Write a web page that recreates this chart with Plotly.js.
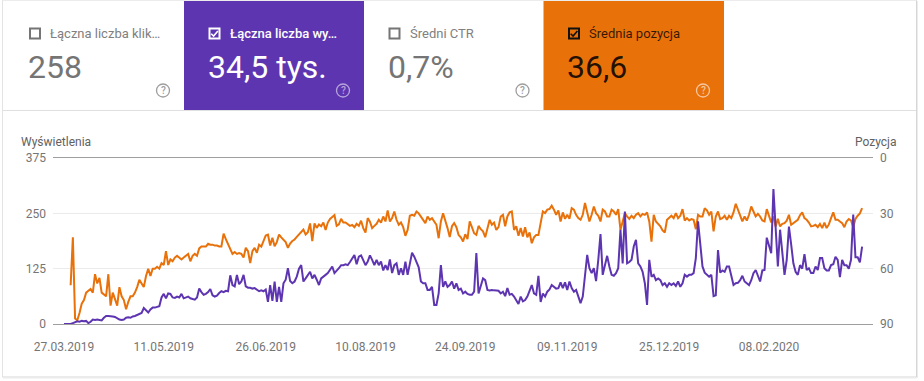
<!DOCTYPE html>
<html><head><meta charset="utf-8">
<script src="https://cdn.plot.ly/plotly-3.0.1.min.js"></script>
<style>html,body{margin:0;padding:0;background:#fff;} #chart{width:924px;height:381px;}</style>
</head><body><div id="chart"></div>
<script>
// ---------- DATA ----------
const startDate = [2019, 2, 27]; // 27.03.2019 (first day)
const impressions = [
0,0,0,0,2,4,6,5,7,6,
7,2,5,10,9,10,9,8,14,18,
18,18,17,16,12,10,9,10,14,15,
14,17,18,20,22,25,36,30,26,33,
37,37,38,40,60,68,58,69,68,60,
59,62,60,68,58,60,62,58,57,55,
60,80,72,66,68,72,79,65,62,64,
70,74,72,75,74,110,88,85,111,90,
96,111,85,82,82,80,81,78,74,76,
74,78,50,88,52,96,50,84,50,92,
100,126,97,92,96,107,125,133,96,103,
110,118,103,111,100,88,103,108,111,115,
122,130,115,120,126,133,133,135,133,140,
149,156,135,152,155,145,133,141,155,145,
133,145,133,141,121,133,122,146,115,133,
137,111,126,111,141,111,133,161,152,140,
128,96,92,92,77,77,84,43,43,69,
133,84,96,84,88,96,80,92,77,80,
69,73,68,66,66,73,160,69,84,103,
99,77,76,77,76,76,75,69,73,63,
81,66,68,62,54,45,62,51,54,62,
75,88,69,66,109,50,69,62,73,78,
88,84,80,81,94,81,94,77,96,81,
73,77,62,47,62,107,156,126,115,126,
97,145,203,111,130,154,130,111,109,115,
126,213,137,254,137,140,145,175,190,137,
130,118,92,43,145,107,111,99,103,99,
88,92,84,92,88,92,86,96,84,92,
111,107,111,111,115,149,232,186,130,116,
111,107,111,63,65,167,116,121,118,130,
130,111,88,92,93,99,109,96,92,88,
99,115,122,110,96,121,122,195,175,160,
305,209,130,213,160,111,145,220,180,137,
118,111,133,125,158,122,126,115,115,130,
122,149,149,126,121,121,133,135,152,145,
106,145,133,133,125,145,247,151,151,139,175
];
const avgPosition = [
null,null,null,69,43,87,88,84,79,77,
73,72,71,73,63,68,65,73,74,75,
63,80,73,76,80,70,75,77,82,78,
75,75,73,70,66,68,70,64,60,64,
60,60,59,60,57,58,50.5,58,55,56,
54,53,54,55,54,53,52,56,53,52,
53,49,48,48,48,46.5,47,47,47.5,47.5,
48,48,41,44,47,49,52,51,52,51.5,
52,54,48.7,50.5,57,50.5,48.7,51.4,47,48,
45,42,41.5,47.4,43.3,47.8,45.6,41.5,43,44.2,
45.6,48.7,46.4,45,44.2,42.8,41.5,40,38.8,41.5,
40.2,35.5,45,35.5,37.9,36,37,35,39,35,
33,32,31,36.8,36,33,35,35,35.7,36.8,
36.3,37.5,35.7,36.8,34,38,40.4,32.6,34.5,38,
36.8,35.7,33.5,35,31.7,34.4,28.4,34.4,32.6,29,
33.5,36.2,35,37.5,42.2,39,31.3,30.8,31.3,29,
30,31.7,33,35.3,31.7,33.5,32.6,34.4,36.2,43.5,
34.4,30,33.5,38,42.9,37,35.3,37.5,41.7,43,
45.3,41.3,44,34.4,37.5,40.8,41.7,36.8,38.6,39.8,
42.9,37.5,33.5,36.2,35,39,37.5,31.7,30.8,37,
31.7,29.5,29,39,37,42.2,38,42.6,37.5,43,
40.4,46.2,43,41.7,41.7,35.3,29,29.9,28,27.7,
25.9,28,30.8,28.4,34.4,29.5,33,30.8,33,27.2,
28,30.8,32.6,33.5,30.8,24.4,29,34.4,30.8,26.3,
29.9,31.3,34.4,28,29,31.7,31.7,28,29,30.8,
27.7,39,34.4,29.9,31.7,33,31.3,32.6,30.8,29.9,
31.7,30.3,30.8,29.5,34.4,45.3,30.8,34.4,35.7,37,
39.3,40.4,33.5,32.6,31.3,32.6,29.9,32.6,31.3,27.7,
33.9,32.6,33.9,33.1,33.5,38.6,30.8,31.7,31.7,27.2,
28.4,30.8,29,39.8,31.7,29,33.1,32.6,31.3,33.5,
31.3,32.6,29.5,24.8,28,30.8,34.4,31.7,33.9,30.8,
26.3,29,31.7,30.3,31.7,33.9,34.4,27.7,30.8,34.9,
31.7,37.1,33,37.1,35.7,35.3,34,30.8,36.2,35.3,
34.4,33.5,31,29.5,32.6,33.5,35,37.1,36.8,36.2,
37.5,35.7,38,35,38,36,32.6,29.5,33.5,33.5,
34.4,35.3,37.5,34.4,33.1,33.9,37.5,33,31.3,30,27.2
];
const tickDates = ['2019-03-27','2019-05-11','2019-06-26','2019-08-10','2019-09-24','2019-11-09','2019-12-25','2020-02-08'];
const leftTicks = [0,125,250,375];
const rightTicks = [0,30,60,90];
const tileLabels = ['Łączna liczba klik…','Łączna liczba wy…','Średni CTR','Średnia pozycja'];
const tileValues = ['258','34,5 tys.','0,7%','36,6'];
const leftAxisTitle = 'Wyświetlenia';
const rightAxisTitle = 'Pozycja';

// ---------- BUILD ----------
const t0 = Date.UTC(startDate[0], startDate[1], startDate[2]);
const dates = impressions.map((_, i) => new Date(t0 + i * 864e5).toISOString().slice(0, 10));

const L = 53, R = 873, T = 158, B = 324;
const px = x => (x - L) / (R - L);
const py = y => (B - y) / (B - T);
const P = (x, y) => px(x) + ',' + py(y);

const PURPLE = '#5e35b1', ORANGE = '#e8710a';
const shapes = [];
const annotations = [];

function rect(x0, y0, x1, y1, fill, line, lw) {
  shapes.push({type:'rect', xref:'paper', yref:'paper', x0:px(x0), x1:px(x1), y0:py(y1), y1:py(y0),
    fillcolor: fill || 'rgba(0,0,0,0)', line:{color: line || 'rgba(0,0,0,0)', width: lw || 0}, layer:'below'});
}
function hline(x0, x1, y, color, w) {
  shapes.push({type:'line', xref:'paper', yref:'paper', x0:px(x0), x1:px(x1), y0:py(y), y1:py(y), line:{color, width:w||1}, layer:'below'});
}
function vline(x, y0, y1, color, w) {
  shapes.push({type:'line', xref:'paper', yref:'paper', x0:px(x), x1:px(x), y0:py(y0), y1:py(y1), line:{color, width:w||1}, layer:'below'});
}

// card
vline(2.5, 0, 377, '#e3e3e3', 1);
vline(916.5, 0, 377, '#d6d6d6', 1);
vline(917.5, 1, 378, '#ececec', 1);
hline(2.5, 916.5, 0.5, '#ececec', 1);
hline(2.5, 916.5, 377, '#d6d6d6', 1);
hline(3, 917, 378, '#ececec', 1);

// tiles
const tileX = [3, 184, 364, 543.5];
const tileW = [181, 180, 179.5, 180.5];
const tileFill = [null, PURPLE, null, ORANGE];
const labelColor = ['#808080', '#ffffff', '#808080', 'rgba(0,0,0,0.78)'];
const valueColor = ['#757575', '#ffffff', '#757575', 'rgba(0,0,0,0.87)'];
const boxColor = ['#757575', '#ffffff', '#757575', '#111111'];
const helpColor = ['#9e9e9e', 'rgba(255,255,255,0.55)', '#9e9e9e', 'rgba(255,255,255,0.6)'];
const checked = [false, true, false, true];

tileLabels.forEach((lab, i) => {
  const x = tileX[i];
  if (tileFill[i]) rect(x, 1, x + tileW[i], 110, tileFill[i]);
  const bx = x + (i === 0 ? 32 : 30.5), by = 33.5;
  // checkbox
  shapes.push({type:'rect', xref:'paper', yref:'paper', x0:px(bx-5), x1:px(bx+5), y0:py(by+5), y1:py(by-5),
    line:{color: boxColor[i], width:2}, fillcolor:'rgba(0,0,0,0)'});
  if (checked[i]) {
    shapes.push({type:'path', xref:'paper', yref:'paper',
      path:'M' + P(bx-3.3, by+0.2) + ' L' + P(bx-0.9, by+2.6) + ' L' + P(bx+3.4, by-2.6),
      line:{color: boxColor[i], width:1.6}});
  }
  annotations.push({xref:'paper', yref:'paper', x:px(bx + 13), y:py(33), xanchor:'left', yanchor:'middle',
    text: lab, showarrow:false,
    font:{family:'Roboto, sans-serif', size:13, color: labelColor[i], weight: i === 1 ? 500 : 400}});
  annotations.push({xref:'paper', yref:'paper', x:px(bx - 8.8), y:py(67), xanchor:'left', yanchor:'middle',
    text: tileValues[i], showarrow:false,
    font:{family:'Roboto, sans-serif', size:32, color: valueColor[i]}});
  // help icon
  const hx = x + tileW[i] - 21, hy = 90.5;
  shapes.push({type:'circle', xref:'paper', yref:'paper', x0:px(hx-6.5), x1:px(hx+6.5), y0:py(hy+6.5), y1:py(hy-6.5),
    line:{color: helpColor[i], width:1.3}, fillcolor:'rgba(0,0,0,0)'});
  annotations.push({xref:'paper', yref:'paper', x:px(hx), y:py(hy), xanchor:'center', yanchor:'middle',
    text:'?', showarrow:false, font:{family:'Roboto, sans-serif', size:10, color: helpColor[i], weight:500}});
});
hline(3, 916, 110.5, '#e0e0e0', 1);

// axis titles
annotations.push({xref:'paper', yref:'paper', x:px(19), y:py(142), xanchor:'left', yanchor:'middle',
  text:leftAxisTitle, showarrow:false, font:{family:'Roboto, sans-serif', size:12, color:'#616161'}});
annotations.push({xref:'paper', yref:'paper', x:px(898), y:py(142), xanchor:'right', yanchor:'middle',
  text:rightAxisTitle, showarrow:false, font:{family:'Roboto, sans-serif', size:12, color:'#616161'}});

const traces = [
  {x:dates, y:avgPosition, yaxis:'y', type:'scatter', mode:'lines', line:{color:ORANGE, width:2}, cliponaxis:false, hoverinfo:'skip'},
  {x:dates, y:impressions, yaxis:'y2', type:'scatter', mode:'lines', line:{color:PURPLE, width:2}, cliponaxis:false, hoverinfo:'skip'}
];

const axFont = {family:'Roboto, sans-serif', size:12, color:'#757575'};
const layout = {
  width:924, height:381,
  margin:{l:L, r:924-R, t:T, b:381-B, pad:0, autoexpand:false},
  paper_bgcolor:'#ffffff', plot_bgcolor:'rgba(0,0,0,0)',
  font:{family:'Roboto, sans-serif', color:'#757575', size:12},
  showlegend:false, hovermode:false,
  xaxis:{type:'date', range:['2019-03-22 01:00','2020-03-25 22:00'], tickvals:tickDates, tickformat:'%d.%m.%Y',
    showgrid:false, zeroline:false, showline:true, mirror:true, linecolor:'#9e9e9e', linewidth:1,
    ticks:'', ticklabelstandoff:12, tickfont:axFont, fixedrange:true, automargin:false},
  yaxis:{side:'right', range:[90,0], tickvals:rightTicks, showgrid:true, gridcolor:'#ebebeb', gridwidth:1,
    zeroline:false, showline:false, ticks:'', ticklabelstandoff:6, tickfont:axFont, fixedrange:true, automargin:false},
  yaxis2:{overlaying:'y', side:'left', range:[0,375], tickvals:leftTicks, showgrid:false, zeroline:false,
    showline:false, ticks:'', ticklabelstandoff:6, tickfont:axFont, fixedrange:true, automargin:false},
  shapes, annotations
};
Plotly.newPlot('chart', traces, layout, {displayModeBar:false, staticPlot:true});
</script></body></html>
